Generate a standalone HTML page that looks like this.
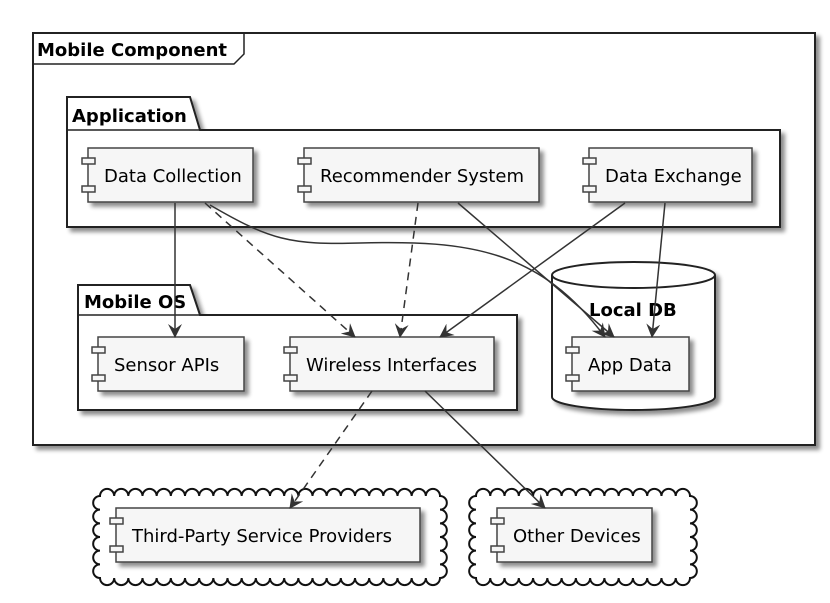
<!DOCTYPE html>
<html><head><meta charset="utf-8"><style>
html,body{margin:0;padding:0;background:#fff;}
svg{display:block;font-family:"DejaVu Sans","Liberation Sans",sans-serif;}
</style></head><body>
<svg id="s" width="830" height="603" viewBox="0 0 830 603" xmlns="http://www.w3.org/2000/svg">
<defs>
<filter id="sh" x="-10%" y="-10%" width="130%" height="140%"><feGaussianBlur in="SourceAlpha" stdDeviation="2"/><feOffset dx="4" dy="4"/><feComponentTransfer><feFuncA type="linear" slope="0.45"/></feComponentTransfer><feMerge><feMergeNode/><feMergeNode in="SourceGraphic"/></feMerge></filter>
<marker id="ar" viewBox="0 0 14 14" refX="13" refY="7" markerWidth="14" markerHeight="14" orient="auto" markerUnits="userSpaceOnUse"><path d="M0,0 L14,7 L0,14 L5,7 Z" fill="#333"/></marker>
</defs>
<rect x="33" y="33" width="782" height="412" fill="#fff" stroke="#222" stroke-width="2" filter="url(#sh)"/>
<path d="M33,64 L234,64 L244,54 L244,33" fill="none" stroke="#222" stroke-width="1.5"/>
<text x="37" y="56" font-size="18" font-weight="bold" fill="#000">Mobile Component</text>
<g filter="url(#sh)"><path d="M67,130 L67,97 L190,97 L200,130 L780,130 L780,227 L67,227 Z" fill="#fff" stroke="#222" stroke-width="2"/></g>
<line x1="67" y1="130" x2="200" y2="130" stroke="#222" stroke-width="1.5"/>
<text x="72" y="122" font-size="18" font-weight="bold">Application</text>
<g filter="url(#sh)"><path d="M78,315 L78,285 L190,285 L200,315 L517,315 L517,410 L78,410 Z" fill="#fff" stroke="#222" stroke-width="2"/></g>
<line x1="78" y1="315" x2="200" y2="315" stroke="#222" stroke-width="1.5"/>
<text x="84" y="308" font-size="18" font-weight="bold">Mobile OS</text>
<g filter="url(#sh)"><path d="M552,275 A81.5,13 0 0 1 715,275 L715,397 A81.5,13 0 0 1 552,397 Z" fill="#fff" stroke="#222" stroke-width="2"/></g>
<path d="M552,275 A81.5,13 0 0 0 715,275" fill="none" stroke="#222" stroke-width="2"/>
<text x="589" y="316" font-size="18" font-weight="bold">Local DB</text>
<path id="c1" fill="#fff" stroke="#111" stroke-width="2"/>
<path id="c2" fill="#fff" stroke="#111" stroke-width="2"/>
<g id="comps"></g>
<g stroke="#333" stroke-width="1.5" fill="none">
<line x1="175" y1="203" x2="175" y2="337" marker-end="url(#ar)"/>
<line x1="205" y1="203" x2="355" y2="337" stroke-dasharray="8,6" marker-end="url(#ar)"/>
<path d="M210,205 C270,240 290,245 360,243 C470,240 540,250 605,337" marker-end="url(#ar)"/>
<line x1="418" y1="203" x2="400" y2="337" stroke-dasharray="8,6" marker-end="url(#ar)"/>
<line x1="458" y1="203" x2="614" y2="337" marker-end="url(#ar)"/>
<line x1="625" y1="203" x2="440" y2="337" marker-end="url(#ar)"/>
<line x1="665" y1="203" x2="652" y2="337" marker-end="url(#ar)"/>
<line x1="372" y1="391" x2="290" y2="508" stroke-dasharray="8,6" marker-end="url(#ar)"/>
<line x1="425" y1="391" x2="545" y2="508" marker-end="url(#ar)"/>
</g>
</svg>
<script>
function cloud(x1,y1,x2,y2,r){
 var nx=Math.max(1,Math.round((x2-x1)/(2*r))),ny=Math.max(1,Math.round((y2-y1)/(2*r)));
 var dx=(x2-x1)/nx,dy=(y2-y1)/ny,d="M"+x1+","+y1;
 for(var i=1;i<=nx;i++)d+=" A"+dx/2+","+dx/2+" 0 0 1 "+(x1+i*dx)+","+y1;
 for(var i=1;i<=ny;i++)d+=" A"+dy/2+","+dy/2+" 0 0 1 "+x2+","+(y1+i*dy);
 for(var i=1;i<=nx;i++)d+=" A"+dx/2+","+dx/2+" 0 0 1 "+(x2-i*dx)+","+y2;
 for(var i=1;i<=ny;i++)d+=" A"+dy/2+","+dy/2+" 0 0 1 "+x1+","+(y2-i*dy);
 return d+"Z";
}
document.getElementById("c1").setAttribute("d",cloud(100,496,440,578,7));
document.getElementById("c2").setAttribute("d",cloud(476,496,690,578,7));
var comps=[["Data Collection",82,148,171],["Recommender System",298,148,241],["Data Exchange",583,148,169],
["Sensor APIs",92,337,152],["Wireless Interfaces",284,337,210],["App Data",566,337,123],
["Third-Party Service Providers",110,508,310],["Other Devices",491,508,161]];
var g=document.getElementById("comps"),h="";
comps.forEach(function(c){var x=c[1],y=c[2],w=c[3],H=54;
 h+='<rect x="'+(x+6)+'" y="'+y+'" width="'+(w-6)+'" height="'+H+'" fill="#f6f6f6" stroke="#444" stroke-width="1.5" filter="url(#sh)"/>';
 h+='<rect x="'+x+'" y="'+(y+10)+'" width="13" height="6" fill="#f6f6f6" stroke="#444" stroke-width="1.5"/>';
 h+='<rect x="'+x+'" y="'+(y+H-16)+'" width="13" height="6" fill="#f6f6f6" stroke="#444" stroke-width="1.5"/>';
 h+='<text x="'+(x+22)+'" y="'+(y+H/2+7)+'" font-size="18" fill="#000">'+c[0]+'</text>';});
g.innerHTML=h;
</script>
</body></html>
